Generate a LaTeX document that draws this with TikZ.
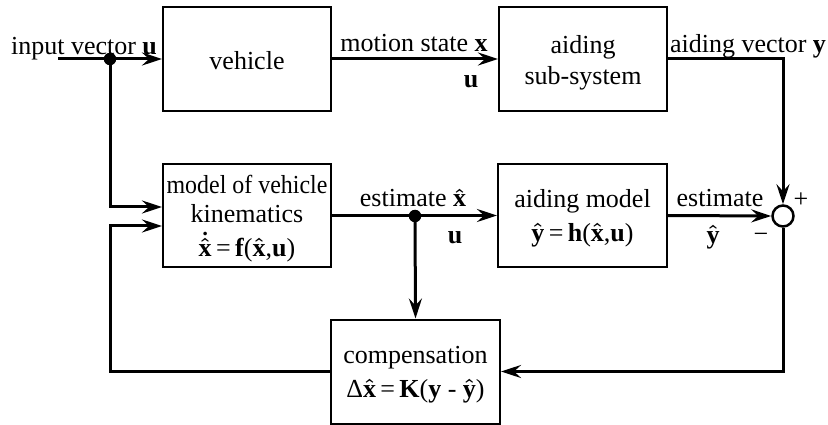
\documentclass[tikz,border=0pt]{standalone}
\usepackage{fontspec}
\setmainfont{Liberation Serif}
\usetikzlibrary{arrows.meta,calc}
\newcommand{\hx}{\ensuremath{\hat{\mbox{\textbf{x}}}}}
\newcommand{\hy}{\ensuremath{\hat{\mbox{\textbf{y}}}}}
\newcommand{\dhx}{\ensuremath{\dot{\hat{\mbox{\textbf{x}}}}}}
\tikzset{
  >={Stealth[length=20pt,width=13pt,inset=7pt]},
  blk/.style={draw,line width=2pt,inner sep=0pt},
  txt/.style={inner sep=0pt,align=center,font=\fontsize{26}{31}\selectfont\boldmath},
  conn/.style={line width=3pt},
  lbl/.style={inner sep=0pt,font=\fontsize{26}{31}\selectfont\boldmath},
  jdot/.style={circle,fill=black,inner sep=0pt,minimum size=12.5pt},
}
\begin{document}
\begin{tikzpicture}[x=1pt,y=-1pt]
\useasboundingbox (0,0) rectangle (828,425);
% blocks
\node[blk,minimum width=168pt,minimum height=104pt] (veh) at (247,59) {};
\node[blk,minimum width=168pt,minimum height=104pt] (ais) at (583,59) {};
\node[blk,minimum width=168pt,minimum height=103pt] (mod) at (247,215.5) {};
\node[blk,minimum width=169pt,minimum height=103pt] (am) at (582.5,215.5) {};
\node[blk,minimum width=169pt,minimum height=104pt] (comp) at (415.5,371.5) {};
\node[draw,circle,line width=2.5pt,minimum size=21pt,inner sep=0pt] (sum) at (783,216) {};
% block texts
\node[txt] (vehT) at ($(veh.center)+(0,2)$) {vehicle};
\node[txt] (aisT) at ($(ais.center)+(0,3.5)$) {aiding\\sub-system};
\node[txt,font=\fontsize{26}{29}\selectfont\boldmath] (modT) at ($(mod.center)+(0,3)$)
  {\scalebox{0.92}[1]{model of vehicle}\\kinematics\\[5pt]\dhx\,=\,\textbf{f}(\hx,\textbf{u})};
\node[txt] (amT) at ($(am.center)+(0,3)$)
  {aiding model\\[3pt]\hy\,=\,\textbf{h}(\hx,\textbf{u})};
\node[txt] (compT) at ($(comp.center)+(0,3.5)$)
  {compensation\\[3pt]Δ\hx\,=\,\textbf{K}(\textbf{y} - \hy)};
% junctions and corners
\node[jdot] (d1) at (110,59) {};
\node[jdot] (d2) at (415,216) {};
\coordinate (in) at (58,59);
\coordinate (m1) at ($(mod.west)+(0,-8.5)$);
\coordinate (m2) at ($(mod.west)+(0,10.5)$);
\coordinate (lc) at (110,371.5);
% connectors
\draw[conn,->] (in) -- (veh.west);
\draw[conn,->] (d1.center) |- (m1);
\draw[conn,->] (veh.east) -- (ais.west);
\draw[conn,->] (ais.east) -| (sum.north);
\draw[conn,->] (mod.east) -- (am.west);
\draw[conn,->] (d2.center) -- (comp.north);
\draw[conn,->] (am.east) -- (sum.west);
\draw[conn,->] (sum.south) |- (comp.east);
\draw[conn,->] (comp.west) -- (lc) |- (m2);
% labels
\node[lbl,anchor=base] (l1) at (84,55) {input vector \textbf{u}};
\node[lbl,anchor=base] (l2) at (414,52) {motion state \textbf{x}};
\node[lbl] (l3) at (471,82) {\textbf{u}};
\node[lbl,anchor=base] (l4) at (748,53) {aiding vector \textbf{y}};
\node[lbl,anchor=base] (l5) at (413,207) {estimate \hx};
\node[lbl] (l6) at (455,238) {\textbf{u}};
\node[lbl,anchor=base] (l7) at (720,207) {estimate};
\node[lbl] (l8) at (713,237) {\hy};
\node[lbl] (l9) at (801,200) {+};
\node[lbl] (l10) at (761,238) {−};
\end{tikzpicture}
\end{document}
